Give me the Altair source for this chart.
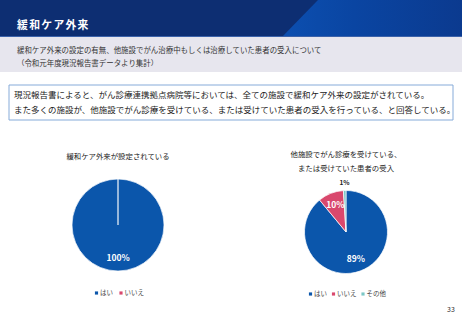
import altair as alt
import pandas as pd

W, H = 462, 320
FONT = "Noto Sans CJK JP"

# ---- data ----
cats = ["はい", "いいえ", "その他"]
colors = ["#0b56ab", "#d9486d", "#7cc8c6"]
left_cats = ["はい", "いいえ"]
left_values = [100, 0]
right_cats = ["はい", "いいえ", "その他"]
right_values = [89, 10, 1]

title = "緩和ケア外来"
subtitle = ["緩和ケア外来の設定の有無、他施設でがん治療中もしくは治療していた患者の受入について",
            "（令和元年度現況報告書データより集計）"]
box_lines = ["現況報告書によると、がん診療連携拠点病院等においては、全ての施設で緩和ケア外来の設定がされている。",
             "また多くの施設が、他施設でがん診療を受けている、または受けていた患者の受入を行っている、と回答している。"]
left_title = "緩和ケア外来が設定されている"
right_title = ["他施設でがん診療を受けている、", "または受けていた患者の受入"]
page_no = "33"

one = pd.DataFrame({"a": [0]})
color_scale = alt.Scale(domain=cats, range=colors)


def rect(x, x2, y, y2, **kw):
    return alt.Chart(one).mark_rect(**kw).encode(
        x=alt.value(x), x2=alt.value(x2), y=alt.value(y), y2=alt.value(y2))


def text(s, x, y, size, align="left", **kw):
    return alt.Chart(one).mark_text(text=s, fontSize=size, font=FONT, align=align,
                                    baseline="middle", **kw).encode(
        x=alt.value(x), y=alt.value(y))


layers = []
# header band
layers.append(rect(0, W, 0, 37, color="#0d2e72"))
hdr = pd.DataFrame({"yy": [0, 37], "xa": [318, 282], "xb": [W, W]})
layers.append(alt.Chart(hdr).mark_area(
    orient="horizontal",
    color=alt.LinearGradient(gradient="linear", x1=0, x2=1, y1=0, y2=0,
                             stops=[alt.GradientStop(color="#0c4fb0", offset=0),
                                    alt.GradientStop(color="#0a45a2", offset=0.4),
                                    alt.GradientStop(color="#0b3a8f", offset=1)])
).encode(
    y=alt.Y("yy:Q", scale=alt.Scale(domain=[0, H], range=[0, H]), axis=None),
    x=alt.X("xa:Q", scale=alt.Scale(domain=[0, W], range=[0, W]), axis=None),
    x2="xb:Q"))
layers.append(rect(0, W, 36, 37, color="#3b62aa"))
# letter-spaced title
for i, ch in enumerate(title):
    layers.append(text(ch, 22.5 + i * 12.1, 26, 10.8, align="center",
                       color="white", fontWeight="bold"))
# grey band
layers.append(rect(0, W, 37, 72, color="#e7e6ee"))
layers.append(text(subtitle[0], 17, 51, 7.45, color="#333333"))
layers.append(text(subtitle[1], 17, 64, 7.45, color="#333333"))
# text box
layers.append(rect(9, 453, 85, 120, fill="white", stroke="#86abd9", strokeWidth=1))
layers.append(text(box_lines[0], 14, 95, 8.5, color="#222222"))
layers.append(text(box_lines[1], 14, 110, 8.5, color="#222222"))

# pies
def pie(cat_list, vals, cx, cy, r, label_r, title_lines, title_y, legend_y, legend_x):
    df = pd.DataFrame({"cat": cat_list, "v": vals, "ord": list(range(len(vals)))})
    base = alt.Chart(df).encode(
        theta=alt.Theta("v:Q", stack=True),
        order=alt.Order("ord:Q"),
        x=alt.value(cx), y=alt.value(cy))
    out = [base.mark_arc(outerRadius=r, stroke="white", strokeWidth=0.7).encode(
        color=alt.Color("cat:N", scale=color_scale, legend=None))]
    lab = base.transform_calculate(lab="format(datum.v/100, '.0%')")
    out.append(lab.mark_text(radius=label_r, font=FONT, fontSize=8.5, fontWeight="bold",
                             color="white", align="center", baseline="middle").encode(
        text=alt.condition("datum.v >= 5", alt.Text("lab:N"), alt.value(""))))
    out.append(lab.mark_text(radius=r + 8, font=FONT, fontSize=6.5, fontWeight="bold",
                             color="#222222", align="center", baseline="middle").encode(
        text=alt.condition("datum.v > 0 && datum.v < 5", alt.Text("lab:N"), alt.value(""))))
    for i, t in enumerate(title_lines):
        out.append(text(t, cx, title_y + i * 14, 7.4, align="center", color="#222222"))
    for c, lx in zip(cat_list, legend_x):
        col = colors[cats.index(c)]
        out.append(alt.Chart(one).mark_square(size=10, color=col, opacity=1).encode(
            x=alt.value(lx), y=alt.value(legend_y)))
        out.append(text(c, lx + 3.5, legend_y, 6.5, color="#444444"))
    return out


layers += pie(left_cats, left_values, 118, 225, 46, 33, [left_title], 157, 293, [96.5, 121])
layers += pie(right_cats, right_values, 346, 232, 41.5, 29, right_title, 155, 294, [310.5, 333.5, 363])

layers.append(text(page_no, 451, 310, 7, align="center", color="#333333"))

chart = alt.layer(*layers).properties(
    width=W, height=H, padding=0,
    autosize=alt.AutoSizeParams(type="none"),
    background="white"
).configure_view(stroke=None)

chart.save("out.html", embed_options={"renderer": "svg", "actions": False})
